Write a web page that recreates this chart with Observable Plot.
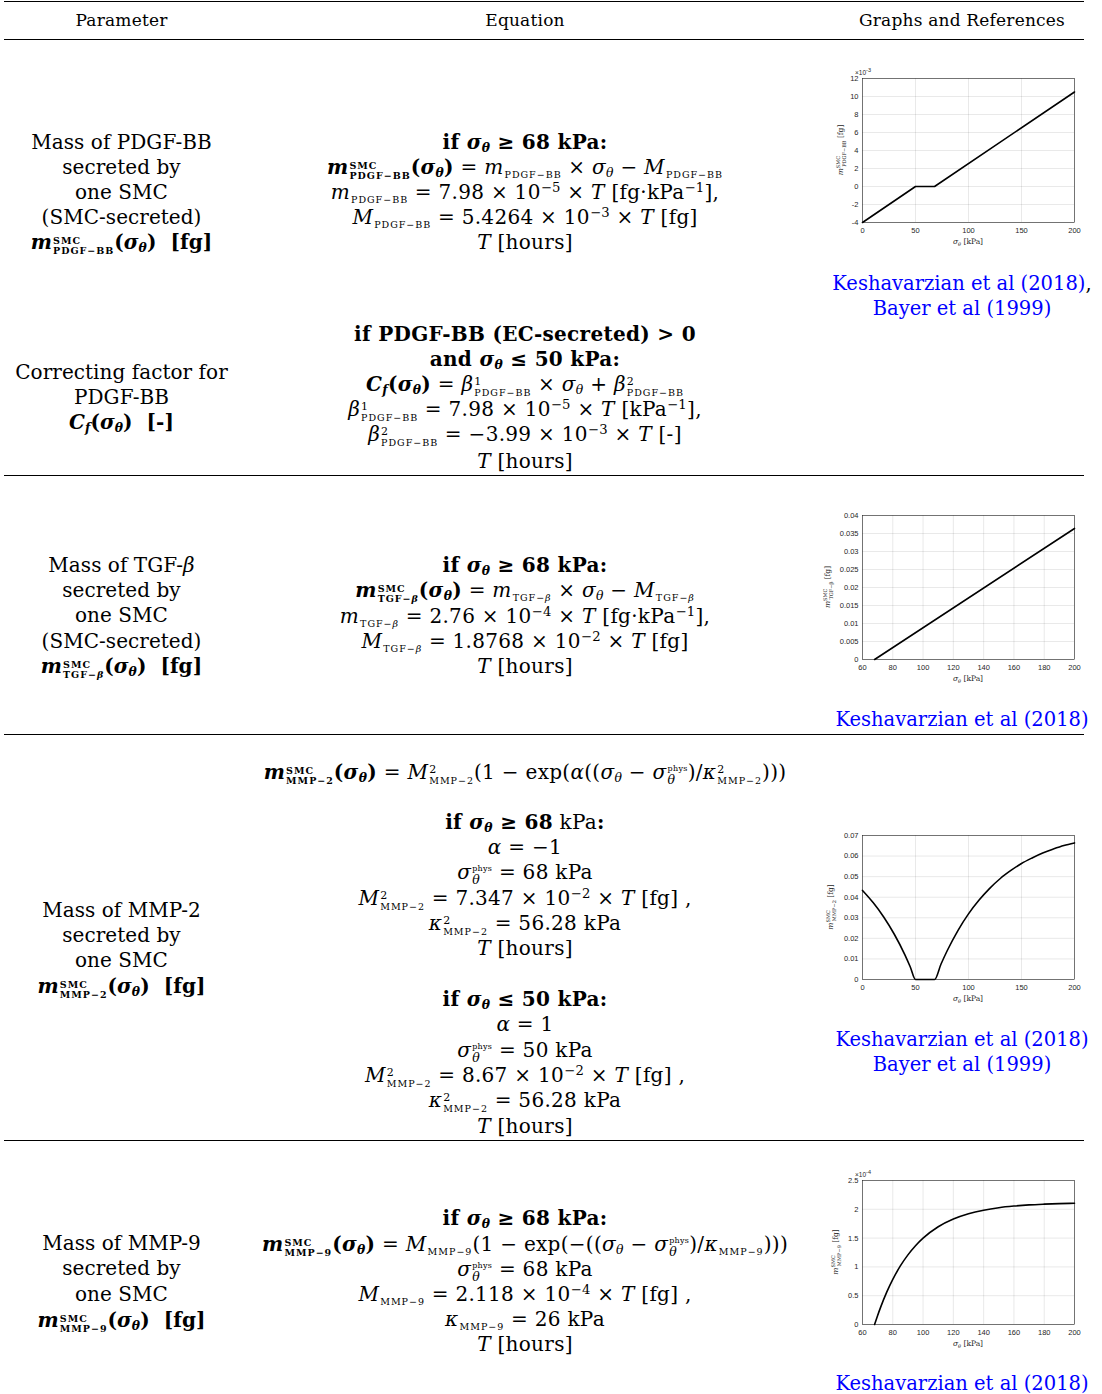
<!DOCTYPE html>
<html><head><meta charset="utf-8">
<script src="https://cdn.jsdelivr.net/npm/d3@7"></script>
<script src="https://cdn.jsdelivr.net/npm/@observablehq/plot@0.6"></script>
<style>
body{margin:0;background:#fff;font-family:"DejaVu Serif",serif;font-size:20px;letter-spacing:0.3px;color:#000;width:1102px;height:1394px;position:relative;overflow:hidden}
.ln{position:absolute;height:25px;line-height:25px;text-align:center;white-space:nowrap;width:800px}
.lt{letter-spacing:0.05px}
.rt{letter-spacing:0;font-size:19.5px}
.s{font-size:0.62em;vertical-align:-0.28em;line-height:0}
.p{font-size:0.66em;vertical-align:0.55em;line-height:0}
.sc{font-size:9.5px;vertical-align:-0.45em;line-height:0;letter-spacing:1px;padding-left:1px}
.st{display:inline-block;line-height:1.05;text-align:left;vertical-align:-5px;padding-left:1px}
.st span{display:block}
.st .a{font-size:11px}
.st .b{font-size:9.5px;letter-spacing:1px}
.st .t{font-size:8px;margin-bottom:-1px}
.st .q{font-size:12.5px;font-style:italic}
.rule{position:absolute;left:4px;width:1080px;height:1px;background:#000}
.cite{color:#0000ff}
.chart{position:absolute}
</style></head><body>
<script>
// ---- chart data ----
const pdgfSigma = [0, 50, 68, 200];                 // kPa
const pdgfMass  = [-4.0, 0, 0, 10.5];               // x10^-3 fg
const tgfSigma  = [68, 200];
const tgfMass   = [0, 0.0364];
const mmp2Sigma = [0, 10, 20, 30, 40, 45, 50, 68, 74, 80, 90, 100, 110, 120, 130, 140, 150, 160, 170, 180, 190, 200];
const mmp2Mass  = [0.0433, 0.0374, 0.0304, 0.0220, 0.0120, 0.0062, 0, 0, 0.0074, 0.0141, 0.0238, 0.0319, 0.0386, 0.0443, 0.0491, 0.0530, 0.0564, 0.0591, 0.0615, 0.0634, 0.0651, 0.0664];
const mmp9Sigma = [68, 70, 72, 76, 80, 85, 90, 95, 100, 110, 120, 130, 140, 150, 160, 170, 180, 190, 200];
const mmp9Mass  = [0, 0.157, 0.302, 0.561, 0.783, 1.017, 1.209, 1.368, 1.499, 1.697, 1.831, 1.923, 1.985, 2.028, 2.056, 2.076, 2.089, 2.099, 2.105]; // x10^-4 fg

// ---- text helpers ----
const sub = s => `<span class="s">${s}</span>`;
const sup = s => `<span class="p">${s}</span>`;
const sc = s => `<span class="sc">${s}</span>`;
const st = (a, b, ca = "a", cb = "b") => `<span class="st"><span class="${ca}">${a}</span><span class="${cb}">${b}</span></span>`;
const sig = `<i>σ</i>${sub("<i>θ</i>")}`;
const sigP = `<i>σ</i>${st("phys", "θ", "t", "q")}`;
const mS = n => `<i>m</i>${st("SMC", n, "b", "b")}`;
const cite = s => `<span class="cite">${s}</span>`;

function line(cx, y, html, cls = "") {
  const d = document.createElement("div");
  d.className = "ln " + cls;
  d.style.left = (cx - 400) + "px";
  d.style.top = (y - 12.5) + "px";
  d.innerHTML = html;
  document.body.appendChild(d);
}
function rule(y, h = 1) {
  const d = document.createElement("div");
  d.className = "rule"; d.style.top = y + "px"; d.style.height = h + "px";
  document.body.appendChild(d);
}
const L = 121.5, E = 525, R = 962;
const left = ([y, h]) => line(L, y, h, "lt");
const eq = ([y, h]) => line(E, y, h);
const right = (y, h) => line(R, y, h, "rt");

rule(1, 1.3); rule(39, 1); rule(475); rule(734); rule(1140);
const hdr = (cx, t) => { line(cx, 19, `<span style="font-size:17px;letter-spacing:0.2px">${t}</span>`); };
hdr(L, "Parameter"); hdr(E, "Equation"); hdr(R, "Graphs and References");

// Row 1
[[142, "Mass of PDGF-BB"], [167, "secreted by"], [192, "one SMC"], [217, "(SMC-secreted)"],
 [242, `<b>${mS("PDGF−BB")}(${sig}) &nbsp;[fg]</b>`]].forEach(left);
[[142, `<b>if ${sig} ≥ 68 kPa:</b>`],
 [167, `<b>${mS("PDGF−BB")}(${sig})</b> = <i>m</i>${sc("PDGF−BB")} × ${sig} − <i>M</i>${sc("PDGF−BB")}`],
 [192, `<i>m</i>${sc("PDGF−BB")} = 7.98 × 10${sup("−5")} × <i>T</i> [fg·kPa${sup("−1")}],`],
 [217, `<i>M</i>${sc("PDGF−BB")} = 5.4264 × 10${sup("−3")} × <i>T</i> [fg]`],
 [242, `<i>T</i> [hours]`]].forEach(eq);
right(283, `${cite("Keshavarzian et al (2018)")},`);
right(308, cite("Bayer et al (1999)"));

// Row 2
[[372, "Correcting factor for"], [397, "PDGF-BB"],
 [422, `<b><i>C</i>${sub("<i>f</i>")}(${sig}) &nbsp;[-]</b>`]].forEach(left);
[[334, `<b>if PDGF-BB (EC-secreted) &gt; 0</b>`],
 [359, `<b>and ${sig} ≤ 50 kPa:</b>`],
 [384, `<b><i>C</i>${sub("<i>f</i>")}(${sig})</b> = <i>β</i>${st("1", "PDGF−BB")} × ${sig} + <i>β</i>${st("2", "PDGF−BB")}`],
 [409, `<i>β</i>${st("1", "PDGF−BB")} = 7.98 × 10${sup("−5")} × <i>T</i> [kPa${sup("−1")}],`],
 [434, `<i>β</i>${st("2", "PDGF−BB")} = −3.99 × 10${sup("−3")} × <i>T</i> [-]`],
 [461, `<i>T</i> [hours]`]].forEach(eq);

// Row 3
[[565, "Mass of TGF-<i>β</i>"], [590, "secreted by"], [615, "one SMC"], [641, "(SMC-secreted)"],
 [666, `<b>${mS("TGF−<i>β</i>")}(${sig}) &nbsp;[fg]</b>`]].forEach(left);
[[565, `<b>if ${sig} ≥ 68 kPa:</b>`],
 [590, `<b>${mS("TGF−<i>β</i>")}(${sig})</b> = <i>m</i>${sc("TGF−<i>β</i>")} × ${sig} − <i>M</i>${sc("TGF−<i>β</i>")}`],
 [616, `<i>m</i>${sc("TGF−<i>β</i>")} = 2.76 × 10${sup("−4")} × <i>T</i> [fg·kPa${sup("−1")}],`],
 [641, `<i>M</i>${sc("TGF−<i>β</i>")} = 1.8768 × 10${sup("−2")} × <i>T</i> [fg]`],
 [666, `<i>T</i> [hours]`]].forEach(eq);
right(719, cite("Keshavarzian et al (2018)"));

// Row 4
[[910, "Mass of MMP-2"], [935, "secreted by"], [960, "one SMC"],
 [986, `<b>${mS("MMP−2")}(${sig}) &nbsp;[fg]</b>`]].forEach(left);
[[772, `<b>${mS("MMP−2")}(${sig})</b> = <i>M</i>${st("2", "MMP−2")}(1 − exp(<i>α</i>((${sig} − ${sigP})/<i>κ</i>${st("2", "MMP−2")})))`],
 [822, `<b>if ${sig} ≥ 68</b> kPa<b>:</b>`],
 [847, `<i>α</i> = −1`],
 [872, `${sigP} = 68 kPa`],
 [898, `<i>M</i>${st("2", "MMP−2")} = 7.347 × 10${sup("−2")} × <i>T</i> [fg] ,`],
 [923, `<i>κ</i>${st("2", "MMP−2")} = 56.28 kPa`],
 [948, `<i>T</i> [hours]`],
 [999, `<b>if ${sig} ≤ 50 kPa:</b>`],
 [1024, `<i>α</i> = 1`],
 [1050, `${sigP} = 50 kPa`],
 [1075, `<i>M</i>${st("2", "MMP−2")} = 8.67 × 10${sup("−2")} × <i>T</i> [fg] ,`],
 [1100, `<i>κ</i>${st("2", "MMP−2")} = 56.28 kPa`],
 [1126, `<i>T</i> [hours]`]].forEach(eq);
right(1039, cite("Keshavarzian et al (2018)"));
right(1064, cite("Bayer et al (1999)"));

// Row 5
[[1243, "Mass of MMP-9"], [1268, "secreted by"], [1294, "one SMC"],
 [1320, `<b>${mS("MMP−9")}(${sig}) &nbsp;[fg]</b>`]].forEach(left);
[[1218, `<b>if ${sig} ≥ 68 kPa:</b>`],
 [1244, `<b>${mS("MMP−9")}(${sig})</b> = <i>M</i>${sc("MMP−9")}(1 − exp(−((${sig} − ${sigP})/<i>κ</i>${sc("MMP−9")})))`],
 [1269, `${sigP} = 68 kPa`],
 [1294, `<i>M</i>${sc("MMP−9")} = 2.118 × 10${sup("−4")} × <i>T</i> [fg] ,`],
 [1319, `<i>κ</i>${sc("MMP−9")} = 26 kPa`],
 [1344, `<i>T</i> [hours]`]].forEach(eq);
right(1383, cite("Keshavarzian et al (2018)"));

// ---- charts ----
const fmt = d => String(+(+d).toPrecision(6));
function chart(o) {
  const W = 272, H = 194, mL = 50, mR = 10, mT = 20, mB = 30;
  const data = o.xs.map((x, i) => ({x, y: o.ys[i]}));
  const svg = Plot.plot({
    width: W, height: H, marginLeft: mL, marginRight: mR, marginTop: mT, marginBottom: mB,
    style: {fontFamily: "'Liberation Sans', Arial, sans-serif", fontSize: "7.5px", color: "#262626", background: "transparent", overflow: "visible"},
    x: {domain: o.xd, ticks: o.xt, grid: true, label: null, tickSize: 0, tickPadding: 5, tickFormat: fmt},
    y: {domain: o.yd, ticks: o.yt, grid: true, label: null, tickSize: 0, tickPadding: 4, tickFormat: fmt},
    marks: [
      Plot.frame({stroke: "#262626", strokeWidth: 0.6}),
      Plot.line(data, {x: "x", y: "y", stroke: "#000", strokeWidth: 1.6, curve: o.curve || "linear"})
    ]
  });
  const s = d3.select(svg);
  s.selectAll("text").attr("letter-spacing", 0);
  // y label
  const yl = s.append("text").attr("transform", `translate(${o.lx},${mT + 72}) rotate(-90)`)
    .attr("text-anchor", "middle").attr("font-family", "DejaVu Serif, serif").attr("font-size", 7.5).attr("fill", "#262626").attr("letter-spacing", 0);
  yl.append("tspan").attr("font-style", "italic").text("m");
  yl.append("tspan").attr("font-size", 5).attr("dy", -3).text("SMC");
  yl.append("tspan").attr("font-size", 5).attr("dx", -11).attr("dy", 6).text(o.name);
  yl.append("tspan").attr("dy", -3).text(" [fg]");
  // x label
  const xl = s.append("text").attr("x", mL + 106).attr("y", H - mB + 22).attr("text-anchor", "middle")
    .attr("font-family", "DejaVu Serif, serif").attr("font-size", 7.5).attr("fill", "#262626").attr("letter-spacing", 0);
  xl.append("tspan").attr("font-style", "italic").text("σ");
  xl.append("tspan").attr("font-style", "italic").attr("font-size", 5).attr("dy", 1.5).text("θ");
  xl.append("tspan").attr("dy", -1.5).text(" [kPa]");
  if (o.exp) {
    const ex = s.append("text").attr("x", mL + 1).attr("y", mT - 3)
      .attr("font-family", "'Liberation Sans', Arial, sans-serif").attr("font-size", 6.5).attr("fill", "#262626").attr("letter-spacing", 0);
    ex.append("tspan").text("×10");
    ex.append("tspan").attr("font-size", 5.5).attr("dy", -3).text(o.exp);
  }
  const d = document.createElement("div");
  d.className = "chart";
  d.style.left = "812px";
  d.style.top = (o.top - mT) + "px";
  d.style.letterSpacing = "0";
  d.appendChild(svg);
  document.body.appendChild(d);
}
chart({xs: pdgfSigma, ys: pdgfMass, xd: [0, 200], xt: 5, yd: [-4, 12], yt: 8, top: 78, lx: 31, name: "PDGF−BB", exp: "-3"});
chart({xs: tgfSigma, ys: tgfMass, xd: [60, 200], xt: 7, yd: [0, 0.04], yt: 8, top: 515, lx: 18, name: "TGF−β"});
chart({xs: mmp2Sigma, ys: mmp2Mass, xd: [0, 200], xt: 5, yd: [0, 0.07], yt: 7, top: 835, lx: 21, name: "MMP−2", curve: "monotone-x"});
chart({xs: mmp9Sigma, ys: mmp9Mass, xd: [60, 200], xt: 7, yd: [0, 2.5], yt: 5, top: 1180, lx: 26, name: "MMP−9", exp: "-4", curve: "monotone-x"});
</script>
</body></html>
